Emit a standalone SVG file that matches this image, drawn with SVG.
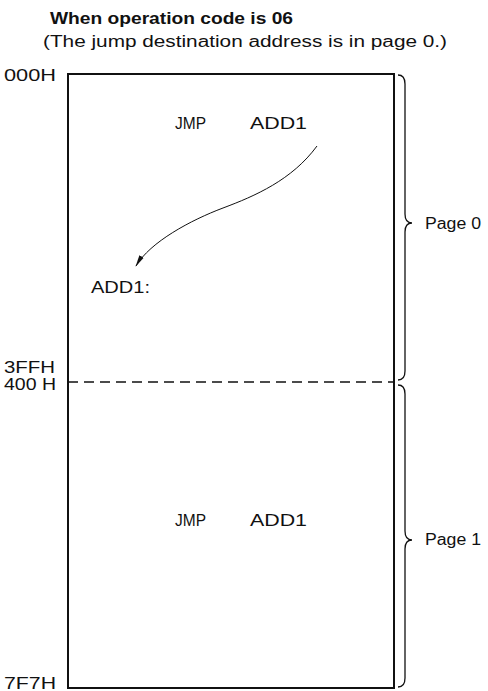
<svg xmlns="http://www.w3.org/2000/svg" width="488" height="691" viewBox="0 0 488 691">
<style>
text{font-family:"Liberation Sans",Arial,sans-serif;fill:#111;font-size:16px}
.t{font-weight:bold;font-size:16px}
.box{fill:none;stroke:#111;stroke-width:2}
.br{fill:none;stroke:#111;stroke-width:1.3}
</style>
<defs>
<marker id="ah" markerWidth="12" markerHeight="6" refX="11" refY="3" orient="auto" markerUnits="userSpaceOnUse">
<path d="M0,0.5 L12,3 L0,5.5 z" fill="#111"/>
</marker>
</defs>
<text class="t" x="50" y="24" textLength="243" lengthAdjust="spacingAndGlyphs">When operation code is 06</text>
<text x="43" y="47" textLength="404" lengthAdjust="spacingAndGlyphs">(The jump destination address is in page 0.)</text>
<g id="memory">
<rect class="box" x="68" y="74" width="326" height="614"/>
<line x1="68" y1="382" x2="394" y2="382" stroke="#111" stroke-width="1.5" stroke-dasharray="10,6"/>
</g>
<g id="addresses">
<text x="4" y="81" textLength="52" lengthAdjust="spacingAndGlyphs">000H</text>
<text x="4" y="373" textLength="51" lengthAdjust="spacingAndGlyphs">3FFH</text>
<text x="4" y="390" textLength="52" lengthAdjust="spacingAndGlyphs">400 H</text>
<text x="4" y="689" textLength="52" lengthAdjust="spacingAndGlyphs">7F7H</text>
</g>
<g id="page0">
<text x="175" y="129" textLength="31" lengthAdjust="spacingAndGlyphs">JMP</text>
<text x="250" y="129" textLength="57" lengthAdjust="spacingAndGlyphs">ADD1</text>
<text x="91" y="293" textLength="59" lengthAdjust="spacingAndGlyphs">ADD1:</text>
<path class="br" d="M398,75 Q405,75 405,84 L405,214 Q405,223 412,223 Q405,223 405,232 L405,371 Q405,380 398,380"/>
<text x="425" y="229" textLength="56" lengthAdjust="spacingAndGlyphs">Page 0</text>
</g>
<g id="page1">
<text x="175" y="526" textLength="31" lengthAdjust="spacingAndGlyphs">JMP</text>
<text x="250" y="526" textLength="57" lengthAdjust="spacingAndGlyphs">ADD1</text>
<path class="br" d="M398,385 Q405,385 405,394 L405,531 Q405,540 412,540 Q405,540 405,549 L405,678 Q405,687 398,687"/>
<text x="425" y="545" textLength="56" lengthAdjust="spacingAndGlyphs">Page 1</text>
</g>
<g id="connectors">
<path d="M317,146 C292,180 255,196 223,208 S150,242 136,266" fill="none" stroke="#111" stroke-width="1" marker-end="url(#ah)"/>
</g>
</svg>
